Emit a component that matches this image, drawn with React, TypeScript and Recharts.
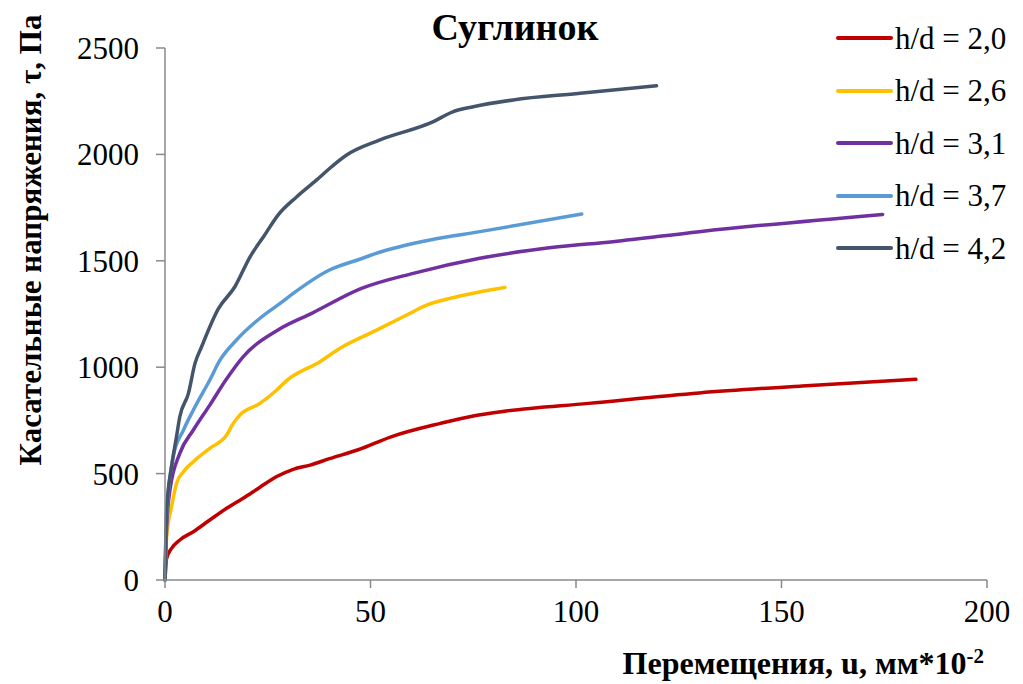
import { LineChart, Line, XAxis, YAxis, Legend, Label } from "recharts";

// Перемещения u (мм*10^-2) и касательные напряжения τ (Па) для каждого h/d
const u20 = [0, 0.4, 1.6, 3.6, 6.9, 10.9, 15, 19, 23.1, 27.2, 31.2, 35.3, 40, 47, 55, 67, 75, 83, 103, 130, 155, 182.7];
const t20 = [0, 102, 149, 188, 227, 282, 337, 384, 436, 486, 520, 540, 570, 612, 673, 736, 771, 794, 830, 879, 912, 943];

const u26 = [0, 0.4, 1.6, 2.8, 4.5, 6.9, 10.9, 15, 16.6, 18.2, 23.1, 27.2, 29.6, 37.7, 42.6, 50.7, 58.8, 62.8, 71, 82.7];
const t26 = [0, 204, 345, 454, 509, 556, 619, 681, 736, 775, 830, 893, 937, 1026, 1089, 1167, 1245, 1285, 1331, 1375];

const u31 = [0, 0.4, 1.2, 3.6, 6.9, 10.9, 14.8, 19, 27.5, 35.7, 47.8, 60.4, 76.6, 94, 109, 130, 174.6];
const t31 = [0, 250, 423, 595, 705, 822, 940, 1049, 1175, 1253, 1370, 1441, 1512, 1562, 1590, 1637, 1718];

const u37 = [0, 0.4, 2, 4.5, 6.9, 10.9, 13.4, 17.4, 23.1, 28, 31.2, 40, 47, 53, 64.5, 76.6, 101.4];
const t37 = [0, 300, 580, 705, 799, 940, 1034, 1128, 1230, 1300, 1347, 1457, 1505, 1545, 1598, 1637, 1720];

const u42 = [0, 0.4, 1.6, 2.8, 3.6, 5.7, 7.3, 8.9, 13, 17, 20.7, 24, 27.5, 32, 36.9, 40.1, 44.2, 52.3, 65.3, 70, 75, 84.7, 101, 119.6];
const t42 = [0, 329, 533, 674, 767, 877, 1018, 1096, 1275, 1378, 1519, 1614, 1715, 1800, 1880, 1935, 1997, 2068, 2154, 2200, 2224, 2256, 2287, 2323];

const seriesNames = ["h/d = 2,0", "h/d = 2,6", "h/d = 3,1", "h/d = 3,7", "h/d = 4,2"];
const seriesColors = ["#C00000", "#FFC000", "#7030A0", "#5B9BD5", "#44546A"];
const xTicks = [0, 50, 100, 150, 200];
const yTicks = [0, 500, 1000, 1500, 2000, 2500];

const toPoints = (u: number[], t: number[]) => u.map((x, i) => ({ u: x, tau: t[i] }));

const series = [
  toPoints(u20, t20),
  toPoints(u26, t26),
  toPoints(u31, t31),
  toPoints(u37, t37),
  toPoints(u42, t42),
];

const FONT = "Liberation Serif";

function LegendBox() {
  return (
    <div style={{ fontFamily: FONT, fontSize: 31, color: "#000" }}>
      {seriesNames.map((name, i) => (
        <div key={name} style={{ display: "flex", alignItems: "center", height: 52.5 }}>
          <svg width={58} height={10}>
            <line x1={3} y1={5} x2={56} y2={5} stroke={seriesColors[i]} strokeWidth={4} strokeLinecap="round" />
          </svg>
          <span style={{ marginLeft: 2, lineHeight: 1 }}>{name}</span>
        </div>
      ))}
    </div>
  );
}

export default function App() {
  return (
    <div style={{ position: "absolute", left: 0, top: 0, background: "#fff", fontFamily: FONT }}>
      <LineChart
        width={1023}
        height={684}
        margin={{ top: 48, right: 36, bottom: 74, left: 105 }}
        style={{ fontFamily: FONT }}
      >
        <XAxis
          type="number"
          dataKey="u"
          domain={[0, 200]}
          ticks={xTicks}
          height={30}
          axisLine={{ stroke: "#898989", strokeWidth: 1.5 }}
          tickLine={{ stroke: "#898989", strokeWidth: 1.5 }}
          tickSize={8}
          tickMargin={12}
          tick={{ fill: "#000", fontFamily: FONT, fontSize: 31 }}
        >
          <Label
            content={() => (
              <text x={984} y={674} textAnchor="end" fontFamily={FONT} fontWeight="bold" fontSize={32} fill="#000">
                Перемещения, u, мм*10
                <tspan dy={-11} fontSize={21}>-2</tspan>
              </text>
            )}
          />
        </XAxis>
        <YAxis
          type="number"
          dataKey="tau"
          domain={[0, 2500]}
          ticks={yTicks}
          width={60}
          axisLine={{ stroke: "#898989", strokeWidth: 1.5 }}
          tickLine={{ stroke: "#898989", strokeWidth: 1.5 }}
          tickSize={9}
          tickMargin={17}
          tick={{ fill: "#000", fontFamily: FONT, fontSize: 31 }}
        >
          <Label
            content={() => (
              <g>
                <text
                  x={30}
                  y={240}
                  transform="rotate(-90 30 240)"
                  textAnchor="middle"
                  dominantBaseline="central"
                  fontFamily={FONT}
                  fontWeight="bold"
                  fontSize={31}
                  fill="#000"
                >
                  Касательные напряжения, τ, Па
                </text>
                <text x={515} y={40} textAnchor="middle" fontFamily={FONT} fontWeight="bold" fontSize={38} fill="#000">
                  Суглинок
                </text>
              </g>
            )}
          />
        </YAxis>
        <Legend
          layout="vertical"
          align="center"
          verticalAlign="middle"
          content={<LegendBox />}
          wrapperStyle={{ position: "absolute", left: 835, top: 12, width: 188 }}
        />
        {series.map((data, i) => (
          <Line
            key={seriesNames[i]}
            data={data}
            dataKey="tau"
            name={seriesNames[i]}
            type="monotone"
            stroke={seriesColors[i]}
            strokeWidth={3.5}
            strokeLinecap="round"
            dot={false}
            activeDot={false}
            isAnimationActive={false}
          />
        ))}
      </LineChart>
    </div>
  );
}
